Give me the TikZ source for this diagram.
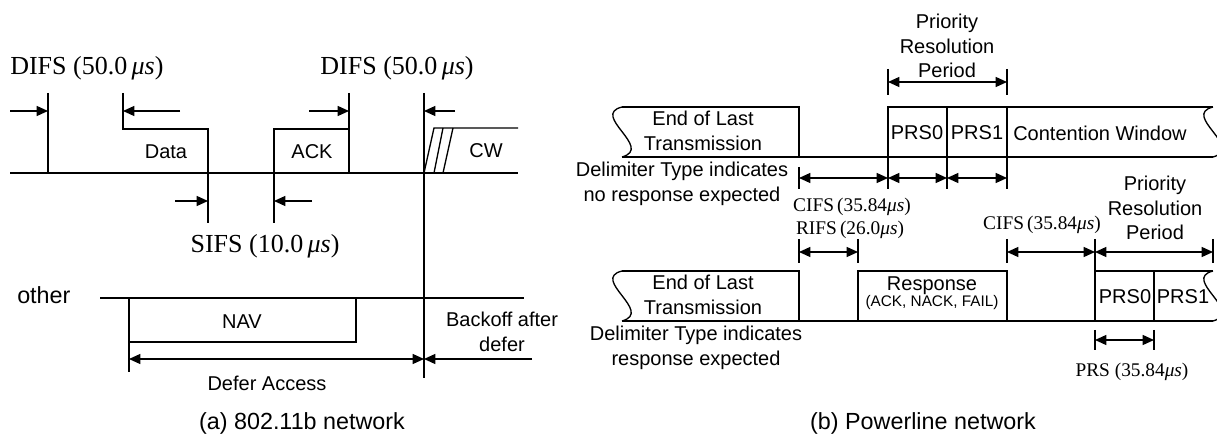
\documentclass[tikz,border=0pt]{standalone}
\usepackage{fontspec}
\setmainfont{Liberation Serif}
\setsansfont{Liberation Sans}
\usetikzlibrary{arrows.meta}

\tikzset{
  hd/.tip={Triangle[length=8.5pt,width=7.5pt]},
  ln/.style={line width=1pt},
  dim/.style={ln,{hd}-{hd}},
  arr/.style={ln,-{hd}},
  sans/.style={font=\sffamily\fontsize{15}{18.5}\selectfont, inner sep=0pt, align=center},
  small/.style={font=\sffamily\fontsize{11.5}{14}\selectfont, inner sep=0pt},
  big/.style={font=\sffamily\fontsize{17.5}{21}\selectfont, inner sep=0pt},
  tbig/.style={font=\rmfamily\fontsize{19.5}{23}\selectfont, inner sep=0pt},
  tsml/.style={font=\rmfamily\fontsize{14.5}{17}\selectfont, inner sep=0pt},
  wave/.pic={\draw[ln] (0,0) .. controls +(-32,8) and +(32,-9) .. (0,50);}
}

\begin{document}
\begin{tikzpicture}[x=0.75pt,y=-0.75pt]
\useasboundingbox (0,0) rectangle (1217,441);

% ---------------- (a) 802.11b ----------------
% transmitting station
\draw[ln] (10,173) -- (518,173);
\draw[ln] (48,93) -- (48,173);
\draw[ln] (123,93) -- (123,129) -- (208,129) -- (208,223);
\draw[ln] (274,223) -- (274,129) -- (349,129);
\draw[ln] (349,93) -- (349,173);
\draw[ln] (424,93) -- (424,378);
% contention window with slots
\draw[ln] (424,173) -- (434,128) -- (518,128);
\draw[ln] (434,173) -- (443,128);
\draw[ln] (443,173) -- (453,128);

\draw[arr] (10,111) -- (48,111);
\draw[arr] (180,111) -- (123,111);
\draw[arr] (309,111) -- (349,111);
\draw[arr] (455,111) -- (424,111);
\draw[arr] (175,201) -- (208,201);
\draw[arr] (312,201) -- (274,201);

\node[tbig, anchor=west] (difsA) at (10,68) {DIFS (50.0\,\textit{μs})};
\node[tbig] (difsB) at (397,68) {DIFS (50.0\,\textit{μs})};
\node[tbig] (sifs) at (265,246) {SIFS (10.0\,\textit{μs})};
\node[sans] (data) at (166,152) {Data};
\node[sans] (ack) at (312,152) {ACK};
\node[sans] (cw) at (486,151) {CW};

% other station
\node[big, anchor=west] (other) at (17,295) {other};
\draw[ln] (100,298) -- (524,298);
\draw[ln] (129,298) -- (129,372);
\draw[ln] (129,342) -- (356,342) -- (356,298);
\node[sans] (nav) at (242,322) {NAV};
\draw[dim] (129,359) -- (424,359);
\draw[arr] (532,359) -- (424,359);
\node[sans] (defer) at (267,383) {Defer Access};
\node[sans] (backoff) at (502,332) {Backoff after\\defer};

\node[big] (capA) at (302,423) {(a) 802.11b network};

% ---------------- (b) Powerline ----------------
% no response expected
\pic at (622,107) {wave};
\draw[ln] (622,107) -- (799,107) -- (799,157);
\draw[ln] (622,157) -- (1213,157);
\draw[ln] (888,157) -- (888,107) -- (1213,107);
\draw[ln] (947,107) -- (947,157);
\draw[ln] (1007,107) -- (1007,157);
\pic at (1213,107) {wave};

\node[sans] (eol1) at (703,131) {End of Last\\Transmission};
\node[sans] (prs0a) at (917,133) {PRS0};
\node[sans] (prs1a) at (977,133) {PRS1};
\node[sans] (cwin) at (1100,133) {Contention Window};

\draw[ln] (888,69) -- (888,95);
\draw[ln] (1007,69) -- (1007,95);
\draw[dim] (888,82) -- (1007,82);
\node[sans] (prp1) at (947,46) {Priority\\Resolution\\Period};

\draw[ln] (799,167) -- (799,189);
\draw[ln] (888,157) -- (888,189);
\draw[ln] (947,157) -- (947,189);
\draw[ln] (1007,157) -- (1007,189);
\draw[dim] (799,178) -- (888,178);
\draw[dim] (888,178) -- (947,178);
\draw[dim] (947,178) -- (1007,178);
\node[sans] (dl1) at (682,184) {Delimiter Type indicates\\no response expected};
\node[tsml] (cifs1) at (852,207) {CIFS\,(35.84\textit{μs})};
\node[tsml] (rifs) at (850,230) {RIFS\,(26.0\textit{μs})};

% response expected
\draw[ln] (799,239) -- (799,263);
\draw[ln] (858,239) -- (858,263);
\draw[dim] (799,252) -- (858,252);

\pic at (622,271) {wave};
\draw[ln] (622,271) -- (799,271) -- (799,321);
\draw[ln] (622,321) -- (1213,321);
\draw[ln] (858,321) -- (858,271) -- (1007,271) -- (1007,321);
\draw[ln] (1095,321) -- (1095,271) -- (1213,271);
\draw[ln] (1154,271) -- (1154,321);
\pic at (1213,271) {wave};

\node[sans] (eol2) at (703,295) {End of Last\\Transmission};
\node[sans] (resp) at (932,286) {Response};
\node[small] (respk) at (932,303) {(ACK, NACK, FAIL)};
\node[sans] (prs0b) at (1125,297) {PRS0};
\node[sans] (prs1b) at (1183,297) {PRS1};
\node[sans] (dl2) at (696,348) {Delimiter Type indicates\\response expected};

\draw[ln] (1007,239) -- (1007,263);
\draw[ln] (1095,239) -- (1095,271);
\draw[ln] (1213,239) -- (1213,263);
\draw[dim] (1007,252) -- (1095,252);
\draw[dim] (1095,252) -- (1213,252);
\node[tsml] (cifs2) at (1042,225) {CIFS\,(35.84\textit{μs})};
\node[sans] (prp2) at (1155,208) {Priority\\Resolution\\Period};

\draw[ln] (1095,330) -- (1095,350);
\draw[ln] (1154,330) -- (1154,350);
\draw[dim] (1095,340) -- (1154,340);
\node[tsml] (prs) at (1132,372) {PRS (35.84\textit{μs})};

\node[big] (capB) at (923,423) {(b) Powerline network};
\end{tikzpicture}
\end{document}
